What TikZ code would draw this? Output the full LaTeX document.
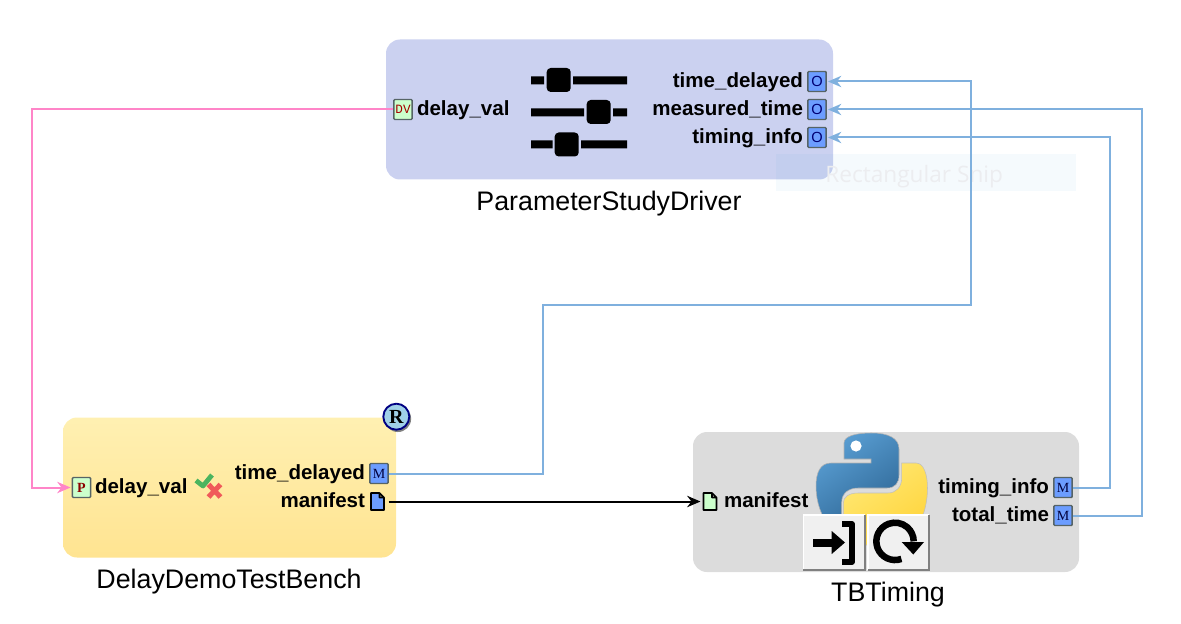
\documentclass[tikz,border=0pt]{standalone}
\usepackage{fontspec}
\setmainfont{Liberation Sans}
\newfontfamily\portserif{Liberation Serif}
\newfontfamily\portmono{Liberation Mono}
\newfontfamily\snipfont{Open Sans}
\usetikzlibrary{arrows.meta,shadings}
\definecolor{wireblue}{HTML}{7FB0DE}
\definecolor{wirepink}{HTML}{FF85C8}
\definecolor{portblue}{HTML}{6C9DFF}
\definecolor{portgreen}{HTML}{CCFFCC}
\definecolor{portedge}{HTML}{566466}
\tikzset{
  x=0.75pt,y=-0.75pt,
  block/.style={rounded corners=10.5pt,minimum width=#1,inner sep=0pt,outer sep=0pt,draw=none},
  porticon/.style={rectangle,draw=portedge,line width=1.1pt,rounded corners=.7pt,minimum width=13.7pt,minimum height=15pt,inner sep=0pt,outer sep=.55pt},
  portout/.style={porticon,fill=portblue,text=black!60!blue!60!black,font=\portserif\fontsize{10.5}{10.5}\selectfont},
  portobj/.style={porticon,fill=portblue,text=black!55!blue,font=\fontsize{11}{11}\selectfont},
  portin/.style={porticon,fill=portgreen,text=red!55!black,font=\portserif\bfseries\fontsize{10.5}{10.5}\selectfont},
  portdv/.style={porticon,fill=portgreen,text=red!65!black,font=\portmono\fontsize{9.5}{9.5}\selectfont},
  docslot/.style={rectangle,minimum width=14.25pt,minimum height=15pt,inner sep=0pt,outer sep=0pt},
  docicon/.style={draw=black,line width=1.2pt,line join=round},
  lbl/.style={inner sep=0pt,outer sep=0pt,font=\bfseries\fontsize{15.4}{15.4}\selectfont,text=black},
  ttl/.style={inner sep=0pt,outer sep=0pt,font=\fontsize{20.1}{20.1}\selectfont,text=black,anchor=base},
  wire/.style={line width=1.5pt,line join=miter,-{Stealth[length=10pt,width=8.5pt,inset=3.2pt]},shorten >=.8pt},
  bar/.style={fill=black},
  knob/.style={fill=black,rounded corners=3pt},
  btn/.style={rectangle,fill=black!6,minimum width=46pt,minimum height=41.5pt,inner sep=0pt,outer sep=0pt},
}
\begin{document}
\begin{tikzpicture}
\useasboundingbox (0,0) rectangle (1181,624);
% blocks
\node[block=335.25pt,minimum height=105pt,fill={rgb,255:red,203;green,209;blue,240}] (psd) at (609.5,109.5) {};
\node[block=249.75pt,minimum height=105pt,top color={rgb,255:red,255;green,240;blue,178},bottom color={rgb,255:red,255;green,228;blue,145}] (tb) at (229.5,487.5) {};
\node[block=289.5pt,minimum height=105pt,fill={rgb,255:red,220;green,220;blue,220}] (tbt) at (886,502) {};
% faint overlay
\node[rectangle,minimum width=225pt,minimum height=28pt,inner sep=0pt,fill={rgb,255:red,55;green,155;blue,215},fill opacity=.05,draw=none] (snip) at (926,172.5) {};
\node[inner sep=0pt,anchor=base west,text={rgb,255:red,236;green,237;blue,240},font=\snipfont\fontsize{17}{17}\selectfont] (sniptext) at (825,183) {Rectangular Snip};
% titles
\node[ttl] (psdt) at (609,210) {ParameterStudyDriver};
\node[ttl] (tbtitle) at (229,588) {DelayDemoTestBench};
\node[ttl] (tbtt) at (888,601.5) {TBTiming};
% ports
\node[portdv] (pdv) at (403,109.5) {DV};
\node[portobj] (otd) at (817,81.5) {O};
\node[portobj] (omt) at (817,109.5) {O};
\node[portobj] (oti) at (817,137.5) {O};
\node[portin] (pp) at (81.5,487.5) {P};
\node[portout] (mtd) at (379,473.5) {M};
\node[docslot] (dout) at (379,501.5) {};
\node[docslot] (din) at (710,501.5) {};
\node[portout] (mti) at (1063,487.5) {M};
\node[portout] (mtt) at (1063,515.5) {M};
\draw[docicon,fill=portblue,shift={(377.5,501.5)}] (-6.5,-8.5) -- (2,-8.5) -- (6.5,-4) -- (6.5,8.5) -- (-6.5,8.5) -- cycle (2,-8.5) -- (2,-4) -- (6.5,-4);
\draw[docicon,fill=portgreen,shift={(710,501.5)}] (-6.5,-8.5) -- (2,-8.5) -- (6.5,-4) -- (6.5,8.5) -- (-6.5,8.5) -- cycle (2,-8.5) -- (2,-4) -- (6.5,-4);
% labels
\node[lbl,anchor=base east] (l1) at (803,87.7) {time\_delayed};
\node[lbl,anchor=base east] (l2) at (803,115.7) {measured\_time};
\node[lbl,anchor=base east] (l3) at (803,143.7) {timing\_info};
\node[lbl,anchor=base west] (l4) at (417,115.7) {delay\_val};
\node[lbl,anchor=base west] (l5) at (95,493.7) {delay\_val};
\node[lbl,anchor=base east] (l6) at (365,479.7) {time\_delayed};
\node[lbl,anchor=base east] (l7) at (365,507.7) {manifest};
\node[lbl,anchor=base west] (l8) at (724,507.7) {manifest};
\node[lbl,anchor=base east] (l9) at (1049,493.7) {timing\_info};
\node[lbl,anchor=base east] (l10) at (1049,521.7) {total\_time};
% sliders
\fill[bar] (531,76.5) rectangle (544,84.5) (573,76.5) rectangle (627,84.5);
\fill[knob] (546.7,68) rectangle (570.7,92);
\fill[bar] (531,108.5) rectangle (584,116.5) (613,108.5) rectangle (627,116.5);
\fill[knob] (586.7,100) rectangle (610.7,124);
\fill[bar] (531,140.5) rectangle (552.7,148.5) (581,140.5) rectangle (627,148.5);
\fill[knob] (554.7,132.5) rectangle (578.7,156.5);
% check and cross
\draw[line width=3.6pt,color={rgb,255:red,75;green,180;blue,95},line join=round] (196,480.5) -- (203,486) -- (212,475);
\draw[line width=3.8pt,color={rgb,255:red,240;green,90;blue,90}] (208.5,484.5) -- (220.5,497) (220.5,484.5) -- (208.5,497);
% R badge
\fill[black!50] (397.8,418.7) circle[radius=10pt];
\node[circle,minimum size=19.5pt,inner sep=0pt,draw={rgb,255:red,0;green,0;blue,130},line width=1.4pt,fill={rgb,255:red,160;green,208;blue,232},font=\portserif\bfseries\fontsize{15}{15}\selectfont] (rbadge) at (396.3,416.7) {R};
% python logo
\shade[top color={rgb,255:red,90;green,159;blue,212},bottom color={rgb,255:red,48;green,105;blue,152},shading angle=35,draw=black!30,line width=.4pt]
 (844,443) .. controls (844,436) and (856,433) .. (871.5,433) .. controls (888,433) and (899,438) .. (899,449)
 -- (899,475) .. controls (899,483) and (895,488) .. (887,488) -- (858,488) .. controls (849,488) and (841.7,493) .. (841.7,502)
 -- (841.7,520) -- (825,520) .. controls (819,510) and (816,498) .. (816,486) .. controls (816,473) and (820,463) .. (831,463)
 -- (871,463) -- (871,459) -- (844,459) -- cycle;
\fill[white] (856,446) circle[radius=4.2pt];
\shade[top color={rgb,255:red,255;green,232;blue,115},bottom color={rgb,255:red,255;green,212;blue,59},shading angle=35,draw=black!25,line width=.4pt]
 (901.7,463) -- (916,463) .. controls (924,463) and (927.5,475) .. (927.5,488) .. controls (927.5,500) and (925,510) .. (922,518)
 -- (905,545) -- (860,545) -- (843.3,518) -- (843.3,503) .. controls (843.3,497) and (849,493) .. (858,493) -- (888,493) .. controls (896,493) and (901.7,487) .. (901.7,478) -- cycle;
% buttons
\node[btn] (bexit) at (834,542.5) {};
\node[btn] (brun) at (898.5,542.5) {};
\foreach \b in {bexit,brun}{
  \draw[white,line width=1pt] (\b.south west) -- (\b.north west) -- (\b.north east);
  \draw[black!50,line width=1.5pt] (\b.north east) -- (\b.south east) -- (\b.south west);
}
\fill[black] (812.7,538.7) rectangle (833,546.7);
\fill[black] (845,542.5) -- (831.7,531) -- (831.7,554) -- cycle;
\draw[black,line width=4.5pt,line join=round] (842,524.3) -- (852,524.3) -- (852,561.7) -- (842,561.7);
\draw[black,line width=4.9pt] (901.4,558.9) arc[start angle=-70,end angle=-360,radius=14pt];
\fill[black] (901.7,542) -- (924,542) -- (913.3,554.5) -- cycle;
% connectors
\coordinate (c1) at (543,305);
\coordinate (c2) at (971,305);
\coordinate (c3) at (1109.5,305);
\coordinate (c4) at (1141.5,305);
\coordinate (c5) at (31.7,305);
\draw[wire,wireblue] (mtd.east) -| (c1) -- (c2) |- (otd.east);
\draw[wire,wireblue] (mti.east) -| (c3) |- (oti.east);
\draw[wire,wireblue] (mtt.east) -| (c4) |- (omt.east);
\draw[wire,wirepink] (pdv.west) -| (c5) |- (pp.west);
\draw[wire,black,shorten >=0pt] (dout.east) -- (din.west);
\end{tikzpicture}
\end{document}
